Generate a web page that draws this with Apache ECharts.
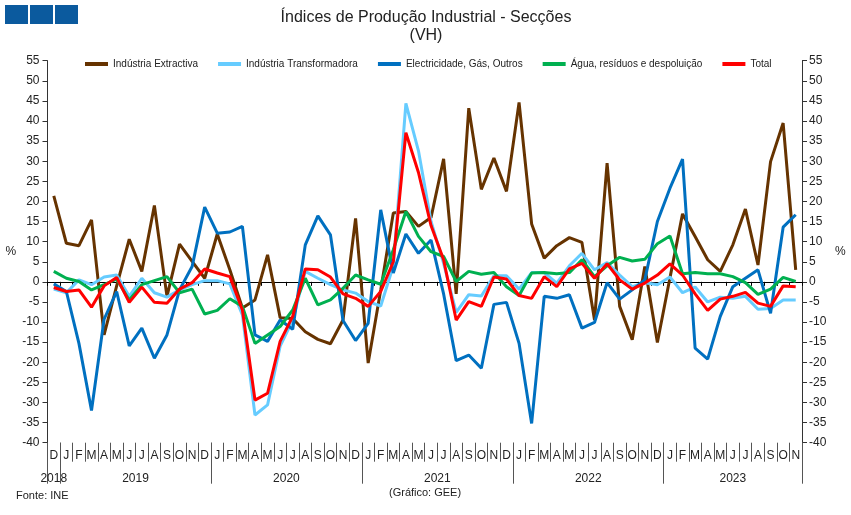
<!DOCTYPE html>
<html><head><meta charset="utf-8">
<script src="https://cdn.jsdelivr.net/npm/echarts@6/dist/echarts.min.js"></script>
<style>html,body{margin:0;padding:0;background:#fff}#c{width:851px;height:515px}</style>
</head><body><div id="c"></div>
<script>
const categories = [
 '2018-12',
 '2019-01','2019-02','2019-03','2019-04','2019-05','2019-06','2019-07','2019-08','2019-09','2019-10','2019-11','2019-12',
 '2020-01','2020-02','2020-03','2020-04','2020-05','2020-06','2020-07','2020-08','2020-09','2020-10','2020-11','2020-12',
 '2021-01','2021-02','2021-03','2021-04','2021-05','2021-06','2021-07','2021-08','2021-09','2021-10','2021-11','2021-12',
 '2022-01','2022-02','2022-03','2022-04','2022-05','2022-06','2022-07','2022-08','2022-09','2022-10','2022-11','2022-12',
 '2023-01','2023-02','2023-03','2023-04','2023-05','2023-06','2023-07','2023-08','2023-09','2023-10','2023-11'
];
const monthLetters = [
 'D',
 'J','F','M','A','M','J','J','A','S','O','N','D',
 'J','F','M','A','M','J','J','A','S','O','N','D',
 'J','F','M','A','M','J','J','A','S','O','N','D',
 'J','F','M','A','M','J','J','A','S','O','N','D',
 'J','F','M','A','M','J','J','A','S','O','N'
];
const yearNames = ['2018','2019','2020','2021','2022','2023'];
const yearLabelIndex = [0, 6, 18, 30, 42, 54];
const yearShifted = [false, true, true, true, true, false];
const yearStartIndex = [0, 1, 13, 25, 37, 49];
const yTicks = { min: -40, max: 55, step: 5 };

const extractiva = [21.4,
 9.6,9.0,15.4,-13.2,-1,10.6,2.6,19.0,-3.6,9.4,5.1,0.9,
 11.9,3,-6.5,-4.5,6.7,-8.9,-9.1,-12.4,-14.3,-15.4,-9.5,15.8,
 -20.2,-2,17.1,17.5,13.8,16,30.6,-3,43.2,23,30.8,22.5,
 44.6,14.4,5.9,9,11,9.8,-9.5,29.5,-6.1,-14.4,3.8,-15.1,
 1,16.9,11.3,5.5,2.6,9.2,18.1,4.2,29.9,39.5,3];
const transformadora = [-1.8,
 -2.7,0.5,-0.7,1.2,1.7,-3.6,0.9,-2.7,-3.8,-2,-0.7,0.3,
 0.3,-0.5,-8.2,-33.1,-30.6,-16,-9.5,2.6,0.9,-0.7,-2,-2.8,
 -4.9,-6,4,44.4,32.6,15,4.6,-7.6,-3.2,-3.5,1.5,1.5,
 -1.8,2.3,2.3,-0.3,4,7.1,3,4.8,1.7,-1.2,-0.2,-0.7,
 1.2,-2.7,-1.3,-5,-3.8,-4.1,-3.6,-6.8,-6.6,-4.5,-4.5];
const electricidade = [-0.5,
 -2.4,-15.3,-32,-9.3,-2.4,-15.9,-11.5,-19,-13.2,-2,3.8,18.6,
 12.1,12.4,13.8,-13.2,-14.8,-9.5,-11.8,9.2,16.4,11.7,-9.6,-14.6,
 -10.3,17.9,2.2,11.9,7.1,10.4,-3,-19.6,-18.2,-21.5,-5.6,-5.1,
 -15.3,-35.2,-3.6,-4.1,-3.2,-11.5,-10.1,-0.2,-4.3,-2,0.5,15,
 23.3,30.5,-16.5,-19.2,-8.6,-1.2,0.9,3,-7.8,13.6,16.7];
const agua = [2.6,
 0.9,0.1,-2,-0.7,0.7,-4.5,-0.7,0.3,1.3,-2.7,-1.8,-8,
 -7.1,-4.2,-6.1,-15.3,-13.2,-11.1,-7,0.9,-5.7,-4.5,-1.6,1.7,
 0.5,-0.6,8,17.5,11.3,7.5,6.3,0.1,2.6,1.9,2.3,-1.2,
 -3.4,2.2,2.3,2,2.3,5.5,1.3,4,6.1,5.2,5.6,9.5,
 11.4,2,2.3,2,2,1.3,-0.2,-3.1,-1.8,1.1,0.1];
const total = [-1.4,
 -2.4,-2,-6.3,-1,1.1,-5.1,-1.3,-5.1,-5.3,-1.8,-0.2,3.2,
 2.2,1.3,-7,-29.4,-27.7,-14.8,-8.6,3.2,3,1.2,-3,-4.1,
 -6.1,-2.4,5,37.1,27.2,14,5.5,-9.5,-4.9,-6.1,1.2,0.7,
 -3.4,-4.1,1.3,-1.2,3.2,4.6,0.9,4.5,0.5,-1.8,-0.3,1.7,
 4.5,1.7,-3,-7.1,-4.3,-3.6,-2.6,-5.3,-6.1,-1,-1.2];

const seriesNames = ['Indústria Extractiva','Indústria Transformadora','Electricidade, Gás, Outros','Água, resíduos e despoluição','Total'];
const seriesData = [extractiva, transformadora, electricidade, agua, total];
const seriesColors = ['#663300','#66ccff','#0070c0','#00b050','#ff0000'];

const FONT = "'Liberation Sans', Arial, sans-serif";
const chart = echarts.init(document.getElementById('c'), null, {renderer: 'canvas'});

function yAxisDef(pos) {
  return {
    type: 'value', position: pos, min: yTicks.min, max: yTicks.max, interval: yTicks.step,
    axisLine: {show: true, lineStyle: {color: '#333', width: 1}},
    axisTick: {show: true, length: 5, inside: false, lineStyle: {color: '#333'}},
    axisLabel: {fontSize: 12, color: '#222', fontFamily: FONT, margin: pos === 'left' ? 8 : 7},
    splitLine: {show: false},
    name: '%', nameLocation: 'middle', nameRotate: 0, nameGap: pos === 'left' ? 30 : 33,
    nameTextStyle: {fontSize: 12, color: '#222', fontFamily: FONT, padding: [4, 0, 0, 0]}
  };
}

const option = {
  animation: false,
  backgroundColor: '#fff',
  title: {
    text: 'Índices de Produção Industrial - Secções\n(VH)',
    left: 421, top: 4, textAlign: 'center',
    textStyle: {fontSize: 16, fontWeight: 'normal', color: '#222', fontFamily: FONT, lineHeight: 18, align: 'center'}
  },
  legend: {
    left: 85, top: 59, padding: 0, icon: 'rect', itemWidth: 23, itemHeight: 4, itemGap: 20,
    textStyle: {fontSize: 10, color: '#222', fontFamily: FONT},
    data: seriesNames
  },
  grid: {left: 47.5, right: 49, top: 60.7, bottom: 72.3},
  xAxis: [
    {
      type: 'category', data: categories, boundaryGap: true,
      axisLine: {show: true, onZero: true, lineStyle: {color: '#000', width: 1}},
      axisTick: {show: true, interval: 0, length: 4, inside: false, lineStyle: {color: '#000'}},
      axisLabel: {show: false}, splitLine: {show: false}
    },
    {
      type: 'category', data: categories, boundaryGap: true, position: 'bottom',
      axisLine: {show: false, onZero: false},
      axisTick: {show: true, interval: 0, length: 19, lineStyle: {color: '#555'}},
      axisLabel: {interval: 0, formatter: (v, i) => monthLetters[i], fontSize: 12, color: '#222', fontFamily: FONT, margin: 7},
      splitLine: {show: false}
    },
    {
      type: 'category', data: categories, boundaryGap: true, position: 'bottom',
      axisLine: {show: false, onZero: false},
      axisTick: {show: true, interval: (i) => yearStartIndex.indexOf(i) >= 0, length: 41, lineStyle: {color: '#555'}},
      axisLabel: {
        interval: (i) => yearLabelIndex.indexOf(i) >= 0,
        formatter: (v, i) => {
          const k = yearLabelIndex.indexOf(i);
          if (k < 0) return '';
          return yearShifted[k] ? '{s|' + yearNames[k] + '}' : yearNames[k];
        },
        rich: {s: {padding: [0, 0, 0, 12.6], fontSize: 12, color: '#222', fontFamily: FONT}},
        fontSize: 12, color: '#222', fontFamily: FONT, margin: 30
      },
      splitLine: {show: false}
    }
  ],
  yAxis: [yAxisDef('left'), yAxisDef('right')],
  series: seriesNames.map((n, k) => ({
    name: n, type: 'line', data: seriesData[k], xAxisIndex: 0, yAxisIndex: 0,
    symbol: 'none', showSymbol: false, smooth: false,
    lineStyle: {width: 3, color: seriesColors[k]}, itemStyle: {color: seriesColors[k]},
    z: 2 + k
  })),
  graphic: [
    {type: 'rect', shape: {x: 5, y: 5, width: 23, height: 19}, style: {fill: '#0b5a9e'}},
    {type: 'rect', shape: {x: 30, y: 5, width: 23, height: 19}, style: {fill: '#0b5a9e'}},
    {type: 'rect', shape: {x: 55, y: 5, width: 23, height: 19}, style: {fill: '#0b5a9e'}},
    {type: 'text', left: 16, top: 490, style: {text: 'Fonte: INE', fontSize: 11, fill: '#222', font: "11px 'Liberation Sans', Arial, sans-serif"}},
    {type: 'text', left: 389, top: 487, style: {text: '(Gráfico: GEE)', fontSize: 11, fill: '#222', font: "11px 'Liberation Sans', Arial, sans-serif"}}
  ]
};
chart.setOption(option);
</script>
</body></html>
